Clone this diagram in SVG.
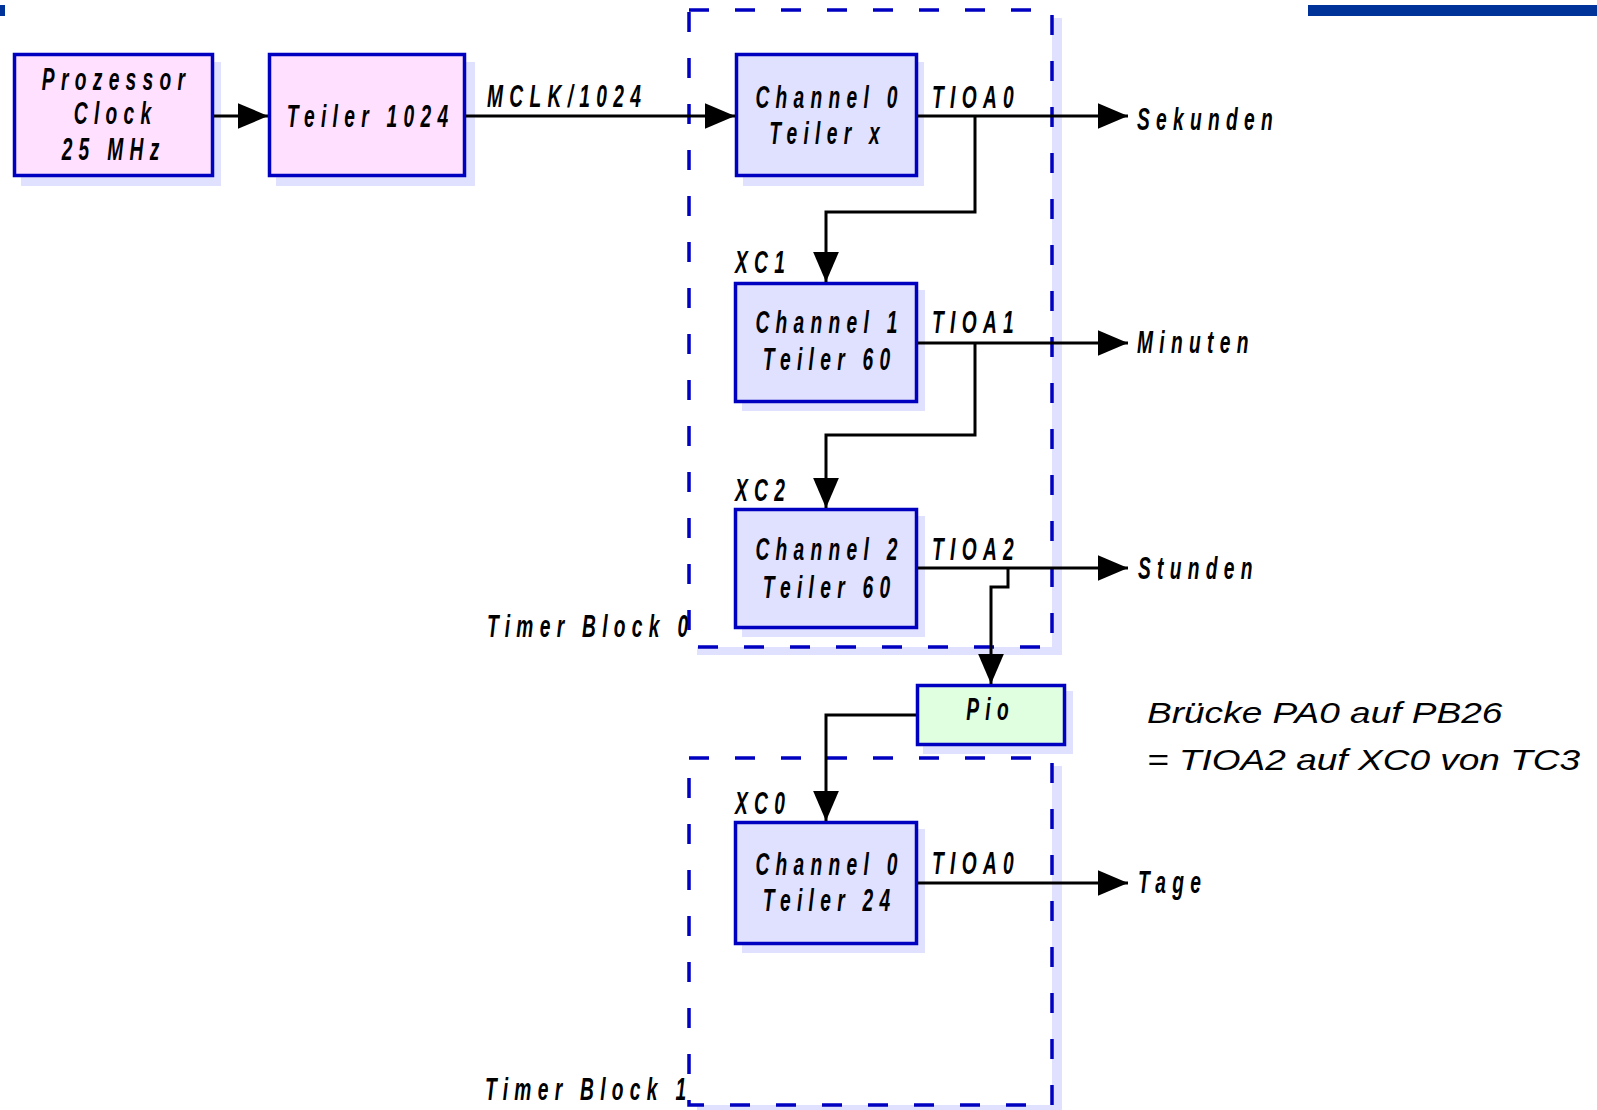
<svg xmlns="http://www.w3.org/2000/svg" width="1597" height="1110" viewBox="0 0 1597 1110">
<style>
.t{font-family:"Liberation Sans",Arial,sans-serif;font-style:italic;font-weight:bold;font-size:32px;fill:#000;letter-spacing:10.5px}
.b{font-family:"Liberation Sans",Arial,sans-serif;font-style:italic;font-size:30px;fill:#000}
.box{stroke:#0000c0;stroke-width:3.5}
.sh{fill:#e0e0ff}
.pink{fill:#ffe0ff}
.lav{fill:#e0e0ff}
.grn{fill:#e0ffe0}
.tb{fill:#fff;stroke:#0000c0;stroke-width:3.5;stroke-dasharray:20 26}
.ca{fill:none;stroke:#000;stroke-width:3;marker-end:url(#ah)}
</style>
<defs>
<marker id="ah" markerUnits="userSpaceOnUse" markerWidth="30" markerHeight="26" viewBox="0 0 28 24" refX="28" refY="12" orient="auto">
<path d="M0,0 L28,12 L0,24 Z" fill="#000"/>
</marker>
</defs>
<rect x="0" y="5" width="5" height="11" fill="#003399"/>
<rect x="1308" y="5" width="289" height="11" fill="#003399"/>

<g id="timer-block-0">
<rect class="sh" x="697" y="18" width="365" height="637"/>
<rect class="tb" x="689" y="10" width="363" height="637"/>
<text class="t" transform="translate(487 637) scale(0.6 1)">Timer Block 0</text>
</g>
<g id="timer-block-1">
<rect class="sh" x="697" y="766" width="365" height="347"/>
<rect class="tb" x="689" y="758" width="363" height="347"/>
<text class="t" transform="translate(485 1100) scale(0.6 1)">Timer Block 1</text>
</g>

<g id="prozessor-clock">
<rect class="sh" x="21" y="62" width="200" height="124"/>
<rect class="box pink" x="14.5" y="54.5" width="198" height="121"/>
<text class="t" text-anchor="middle" x="6" transform="translate(113 90) scale(0.6 1)">Prozessor</text>
<text class="t" text-anchor="middle" x="6" transform="translate(112 124) scale(0.6 1)">Clock</text>
<text class="t" text-anchor="middle" x="6" transform="translate(110 160) scale(0.6 1)">25 MHz</text>
</g>
<g id="teiler-1024">
<rect class="sh" x="276" y="62" width="199" height="124"/>
<rect class="box pink" x="269.5" y="54.5" width="195" height="121"/>
<text class="t" text-anchor="middle" x="6" transform="translate(367 127) scale(0.6 1)">Teiler 1024</text>
</g>
<g id="tb0-channel0">
<rect class="sh" x="743" y="62" width="181" height="124"/>
<rect class="box lav" x="736.5" y="54.5" width="180" height="121"/>
<text class="t" text-anchor="middle" x="6" transform="translate(826 108) scale(0.6 1)">Channel 0</text>
<text class="t" text-anchor="middle" x="6" transform="translate(824 144) scale(0.6 1)">Teiler x</text>
</g>
<g id="tb0-channel1">
<rect class="sh" x="742" y="290" width="183" height="121"/>
<rect class="box lav" x="735.5" y="283.5" width="181" height="118"/>
<text class="t" text-anchor="middle" x="6" transform="translate(826 333) scale(0.6 1)">Channel 1</text>
<text class="t" text-anchor="middle" x="6" transform="translate(826 370) scale(0.6 1)">Teiler 60</text>
</g>
<g id="tb0-channel2">
<rect class="sh" x="742" y="516" width="183" height="121"/>
<rect class="box lav" x="735.5" y="509.5" width="181" height="118"/>
<text class="t" text-anchor="middle" x="6" transform="translate(826 560) scale(0.6 1)">Channel 2</text>
<text class="t" text-anchor="middle" x="6" transform="translate(826 598) scale(0.6 1)">Teiler 60</text>
</g>
<g id="pio">
<rect class="sh" x="923" y="691" width="150" height="63"/>
<rect class="box grn" x="917.5" y="685.5" width="147" height="59"/>
<text class="t" text-anchor="middle" x="6" transform="translate(987 720) scale(0.6 1)">Pio</text>
</g>
<g id="tb1-channel0">
<rect class="sh" x="742" y="829" width="183" height="124"/>
<rect class="box lav" x="735.5" y="822.5" width="181" height="121"/>
<text class="t" text-anchor="middle" x="6" transform="translate(826 875) scale(0.6 1)">Channel 0</text>
<text class="t" text-anchor="middle" x="6" transform="translate(826 911) scale(0.6 1)">Teiler 24</text>
</g>

<g id="connectors">
<path class="ca" d="M214,116 H268"/>
<path class="ca" d="M466,116 H735"/>
<path class="ca" d="M918,116 H1128"/>
<path class="ca" d="M975,116 V212 H826 V282"/>
<path class="ca" d="M918,343 H1128"/>
<path class="ca" d="M975,343 V435 H826 V508"/>
<path class="ca" d="M918,568 H1128"/>
<path class="ca" d="M1008,568 V587 H991 V684"/>
<path class="ca" d="M916,715 H826 V821"/>
<path class="ca" d="M918,883 H1128"/>
</g>

<g id="labels">
<text class="t" transform="translate(487 107) scale(0.6 1)">MCLK/1024</text>
<text class="t" transform="translate(932 108) scale(0.6 1)">TIOA0</text>
<text class="t" transform="translate(1137 130) scale(0.6 1)">Sekunden</text>
<text class="t" transform="translate(735 273) scale(0.6 1)">XC1</text>
<text class="t" transform="translate(932 333) scale(0.6 1)">TIOA1</text>
<text class="t" transform="translate(1137 353) scale(0.6 1)">Minuten</text>
<text class="t" transform="translate(735 501) scale(0.6 1)">XC2</text>
<text class="t" transform="translate(932 560) scale(0.6 1)">TIOA2</text>
<text class="t" transform="translate(1138 579) scale(0.6 1)">Stunden</text>
<text class="t" transform="translate(735 814) scale(0.6 1)">XC0</text>
<text class="t" transform="translate(932 874) scale(0.6 1)">TIOA0</text>
<text class="t" transform="translate(1138 893) scale(0.6 1)">Tage</text>
<text class="b" transform="translate(1147 723) scale(1.235 1)">Brücke PA0 auf PB26</text>
<text class="b" transform="translate(1147 770) scale(1.235 1)">= TIOA2 auf XC0 von TC3</text>
</g>
</svg>
